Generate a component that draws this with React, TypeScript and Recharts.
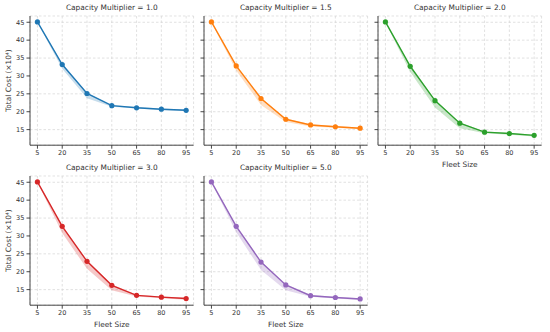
import React from "react";
import { ComposedChart, Line, Area, XAxis, YAxis, CartesianGrid } from "recharts";

const fleetSizes = [5, 20, 35, 50, 65, 80, 95];
const xTicks = [5, 20, 35, 50, 65, 80, 95];
const yTicks = [15, 20, 25, 30, 35, 40, 45];

const cap10Mean = [45.1, 33.2, 25.1, 21.7, 21.1, 20.7, 20.4];
const cap10Low = [44.9, 32.0, 23.8, 21.4, 20.9, 20.5, 20.2];
const cap10High = [45.2, 33.4, 25.3, 21.9, 21.3, 20.9, 20.6];

const cap15Mean = [45.1, 32.8, 23.7, 17.9, 16.3, 15.8, 15.4];
const cap15Low = [44.9, 31.5, 21.9, 17.1, 15.9, 15.5, 15.1];
const cap15High = [45.2, 33.0, 23.9, 18.1, 16.5, 16.0, 15.6];

const cap20Mean = [45.1, 32.7, 23.1, 16.8, 14.3, 13.9, 13.4];
const cap20Low = [44.9, 31.1, 21.2, 15.4, 14.0, 13.6, 13.1];
const cap20High = [45.2, 32.9, 23.3, 17.0, 14.5, 14.1, 13.6];

const cap30Mean = [45.1, 32.7, 22.9, 16.2, 13.4, 12.9, 12.5];
const cap30Low = [44.9, 30.8, 20.8, 14.8, 13.1, 12.6, 12.2];
const cap30High = [45.2, 32.9, 23.1, 16.4, 13.6, 13.1, 12.7];

const cap50Mean = [45.1, 32.7, 22.7, 16.3, 13.3, 12.8, 12.4];
const cap50Low = [44.9, 31.0, 20.5, 14.8, 13.0, 12.5, 12.1];
const cap50High = [45.2, 32.9, 22.9, 16.5, 13.5, 13.0, 12.6];

const panels = [
  { title: "Capacity Multiplier = 1.0", mean: cap10Mean, low: cap10Low, high: cap10High, color: "#1f77b4", col: 0, row: 0, xLabel: false },
  { title: "Capacity Multiplier = 1.5", mean: cap15Mean, low: cap15Low, high: cap15High, color: "#ff7f0e", col: 1, row: 0, xLabel: false },
  { title: "Capacity Multiplier = 2.0", mean: cap20Mean, low: cap20Low, high: cap20High, color: "#2ca02c", col: 2, row: 0, xLabel: true },
  { title: "Capacity Multiplier = 3.0", mean: cap30Mean, low: cap30Low, high: cap30High, color: "#d62728", col: 0, row: 1, xLabel: true },
  { title: "Capacity Multiplier = 5.0", mean: cap50Mean, low: cap50Low, high: cap50High, color: "#9467bd", col: 1, row: 1, xLabel: true },
];

const FONT = "DejaVu Sans, sans-serif";
const plotLefts = [30, 204, 378];
const plotTops = [15.9, 175.7];
const PW = 163.6;
const PH = 129.2;
const YW = 30;
const MT = 5;
const MR = 5;
const XH = 30;

function Panel({ p }: { p: any }) {
  const data = fleetSizes.map((x, i) => ({ x, mean: p.mean[i], band: [p.low[i], p.high[i]] }));
  const left = plotLefts[p.col] - YW;
  const top = plotTops[p.row] - MT;
  const showY = p.col === 0;
  return (
    <div style={{ position: "absolute", left, top, width: YW + PW + MR, height: MT + PH + XH }}>
      <div
        style={{
          position: "absolute",
          left: YW,
          width: PW,
          top: -10,
          height: 14,
          lineHeight: "14px",
          textAlign: "center",
          fontFamily: FONT,
          fontSize: 7.4,
          fontWeight: 400,
          color: "#333",
          whiteSpace: "nowrap",
        }}
      >
        {p.title}
      </div>
      <ComposedChart
        width={YW + PW + MR}
        height={MT + PH + XH}
        data={data}
        margin={{ top: MT, right: MR, left: 0, bottom: 0 }}
      >
        <CartesianGrid stroke="#d4d4d4" strokeDasharray="2.5 2" strokeWidth={0.7} />
        <XAxis
          dataKey="x"
          type="number"
          domain={[0.5, 99.5]}
          ticks={xTicks}
          allowDataOverflow
          height={XH}
          stroke="#333"
          strokeWidth={0.9}
          tickSize={3.5}
          tickMargin={2}
          tick={{ fontSize: 6.6, fill: "#333", fontFamily: FONT }}
          label={
            p.xLabel
              ? {
                  content: (props: any) => {
                    const vb = props.viewBox;
                    return (
                      <text
                        x={vb.x + vb.width / 2}
                        y={vb.y + 19}
                        textAnchor="middle"
                        dominantBaseline="central"
                        fontSize={7.4}
                        fontWeight={400}
                        fontFamily={FONT}
                        fill="#333"
                      >
                        Fleet Size
                      </text>
                    );
                  },
                }
              : undefined
          }
        />
        <YAxis
          type="number"
          domain={[10.65, 46.75]}
          ticks={yTicks}
          allowDataOverflow
          width={YW}
          stroke="#333"
          strokeWidth={0.9}
          tickSize={3.5}
          tickMargin={2}
          tickFormatter={(v: number) => (showY ? String(v) : "")}
          tick={{ fontSize: 6.6, fill: "#333", fontFamily: FONT }}
          label={
            showY
              ? {
                  content: (props: any) => {
                    const vb = props.viewBox;
                    const cx = vb.x + 8;
                    const cy = vb.y + vb.height / 2;
                    return (
                      <text
                        x={cx}
                        y={cy}
                        transform={`rotate(-90 ${cx} ${cy})`}
                        textAnchor="middle"
                        dominantBaseline="central"
                        fontSize={7.4}
                        fontWeight={400}
                        fontFamily={FONT}
                        fill="#333"
                      >
                        Total Cost (×10⁴)
                      </text>
                    );
                  },
                }
              : undefined
          }
        />
        <Area
          type="linear"
          dataKey="band"
          stroke="none"
          fill={p.color}
          fillOpacity={0.25}
          isAnimationActive={false}
          activeDot={false}
        />
        <Line
          type="linear"
          dataKey="mean"
          stroke={p.color}
          strokeWidth={1.4}
          dot={{ r: 2.6, fill: p.color, stroke: p.color, strokeWidth: 0 }}
          activeDot={false}
          isAnimationActive={false}
        />
      </ComposedChart>
    </div>
  );
}

export default function App() {
  return (
    <div style={{ position: "absolute", left: 0, top: 0, width: 550, height: 332, background: "#fff" }}>
      {panels.map((p, i) => (
        <Panel key={i} p={p} />
      ))}
    </div>
  );
}
